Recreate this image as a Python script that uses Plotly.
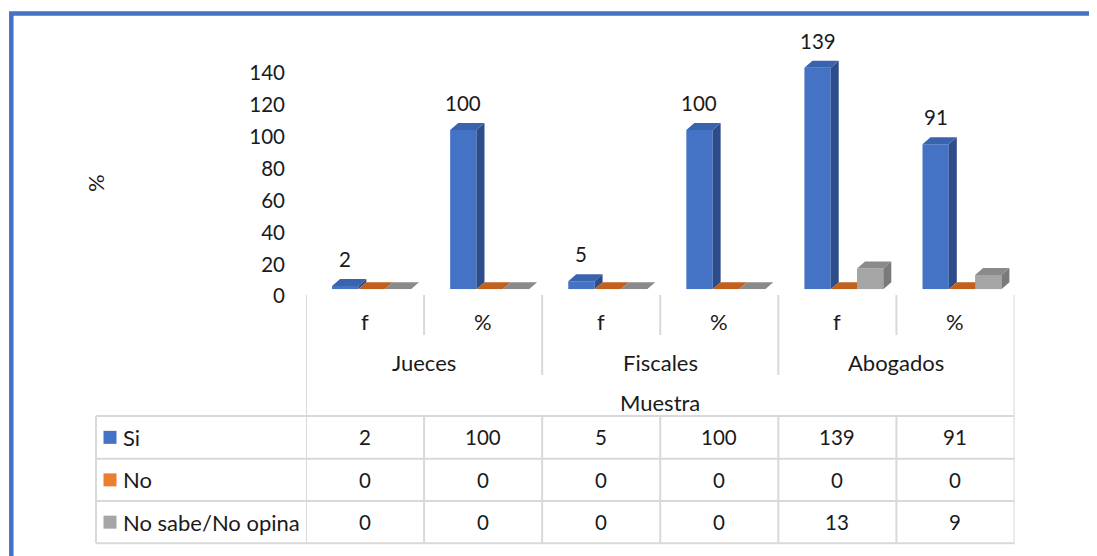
import plotly.graph_objects as go

# page body keeps its default 8px margin, so the figure is drawn 8px in and
# all reference pixel positions are converted with that offset
PAGE_W, PAGE_H = 1097, 556
OFF = 8
W, H = PAGE_W - OFF, PAGE_H - OFF

# ---------------- data ----------------
sub_categories = ["f", "%", "f", "%", "f", "%"]
groups = ["Jueces", "Fiscales", "Abogados"]
outer_title = "Muestra"
series_names = ["Si", "No", "No sabe/No opina"]
si_values = [2, 100, 5, 100, 139, 91]
no_values = [0, 0, 0, 0, 0, 0]
ns_values = [0, 0, 0, 0, 13, 9]
y_ticks = [0, 20, 40, 60, 80, 100, 120, 140]
y_title = "%"

series_values = [si_values, no_values, ns_values]
front_colors = ["#4472C4", "#ED7D31", "#A5A5A5"]
side_colors = ["#2C4D8A", "#A9561F", "#7A7A7A"]
top_colors = ["#3A63AD", "#C2601E", "#8A8A8A"]

FONT = "Lato"
TXT = "#1a1a1a"
GRID = "#d9d9d9"
WORD_SIZE = 22
NUM_SIZE = 20.5

# ---------------- geometry (reference pixels -> axes) ----------------
x_left_px, x_right_px = 306.0, 1014.5
n_cat = len(sub_categories)
cat_px = (x_right_px - x_left_px) / n_cat
base_px = 289.3
top_px = 30.0
px_per_unit = 1.593
y_max = (base_px - top_px) / px_per_unit

bar_w = 26.3 / cat_px          # width of each bar in category units
group_shift = 6.5 / cat_px     # front faces slightly right of category centre
dx = 8.0 / cat_px              # 3D depth (horizontal)
dy = 7.0 / px_per_unit         # 3D depth (vertical)


def px_x(p):
    return (p - OFF) / W


def px_y(p):
    return 1 - (p - OFF) / H


def font(size):
    return dict(family=FONT, size=size, color=TXT)


fig = go.Figure()

# 3D-looking columns built as filled polygons on the data axes
for s, (name, vals) in enumerate(zip(series_names, series_values)):
    fx, fy, sx, sy, tx, ty = [], [], [], [], [], []
    for i, v in enumerate(vals):
        L = i + group_shift + (s - 1.5) * bar_w
        R = L + bar_w
        fx += [L, R, R, L, L, None]
        fy += [0, 0, v, v, 0, None]
        sx += [R, R + dx, R + dx, R, R, None]
        sy += [0, dy, v + dy, v, 0, None]
        tx += [L, L + dx, R + dx, R, L, None]
        ty += [v, v + dy, v + dy, v, v, None]
    for xs, ys, col in ((fx, fy, front_colors[s]), (sx, sy, side_colors[s]), (tx, ty, top_colors[s])):
        fig.add_trace(go.Scatter(
            x=xs, y=ys, mode="lines", fill="toself", fillcolor=col,
            line=dict(width=0, color=col), hoverinfo="skip", showlegend=False,
            name=name, connectgaps=False,
        ))

annotations = []


def ann(**kw):
    base = dict(showarrow=False, xanchor="center", yanchor="middle")
    base.update(kw)
    annotations.append(base)


# data labels for "Si"
for i, v in enumerate(si_values):
    xc = i + group_shift + (0 - 1.5) * bar_w + bar_w / 2
    ann(x=xc, y=v, xref="x", yref="y", text=str(v), yshift=27, font=font(NUM_SIZE))

# category labels (multi-level axis)
for i, c in enumerate(sub_categories):
    ann(x=i, y=px_y(321), xref="x", yref="paper", text=c, font=font(WORD_SIZE))
for g, name in enumerate(groups):
    ann(x=2 * g + 0.5, y=px_y(362), xref="x", yref="paper", text=name, font=font(WORD_SIZE))
ann(x=(n_cat - 1) / 2, y=px_y(402), xref="x", yref="paper", text=outer_title, font=font(WORD_SIZE))

# y-axis title
ann(x=px_x(96), y=px_y(183), xref="paper", yref="paper", text=y_title, textangle=-90,
    font=font(WORD_SIZE))

# data table
row_lines = [416.0, 458.7, 501.0, 543.3]
row_centers = [(row_lines[k] + row_lines[k + 1]) / 2 for k in range(3)]
shapes = []
for r, (name, vals) in enumerate(zip(series_names, series_values)):
    yc = row_centers[r]
    for i, v in enumerate(vals):
        ann(x=i, y=px_y(yc), xref="x", yref="paper", text=str(v), font=font(NUM_SIZE))
    ann(x=px_x(121), y=px_y(yc), xref="paper", yref="paper", text=name, xanchor="left",
        font=font(WORD_SIZE))
    shapes.append(dict(type="rect", xref="paper", yref="paper",
                       x0=px_x(103.5), x1=px_x(116.5), y0=px_y(yc - 6.5), y1=px_y(yc + 6.5),
                       fillcolor=front_colors[r], line=dict(width=0)))

# grid lines of the axis / table
line_style = dict(color=GRID, width=2)
for k in range(n_cat + 1):
    xb = k - 0.5
    if k == 0 or k == n_cat:
        segs = [(295, row_lines[-1])]
    elif k % 2 == 1:
        segs = [(295, 335), (row_lines[0], row_lines[-1])]
    else:
        segs = [(295, 375), (row_lines[0], row_lines[-1])]
    for a, b in segs:
        shapes.append(dict(type="line", xref="x", yref="paper", x0=xb, x1=xb,
                           y0=px_y(a), y1=px_y(b), line=line_style))
for yl in row_lines:
    shapes.append(dict(type="line", xref="paper", yref="paper", x0=px_x(96), x1=px_x(x_right_px),
                       y0=px_y(yl), y1=px_y(yl), line=line_style))
shapes.append(dict(type="line", xref="paper", yref="paper", x0=px_x(96), x1=px_x(96),
                   y0=px_y(row_lines[0]), y1=px_y(row_lines[-1]), line=line_style))

# blue frame (left and top visible)
shapes.append(dict(type="path", xref="paper", yref="paper",
                   path=f"M {px_x(11.3)} {px_y(570)} L {px_x(11.3)} {px_y(13.5)} L {px_x(1110)} {px_y(13.5)}",
                   line=dict(color="#4472C4", width=4.5)))

fig.update_layout(
    width=W, height=H,
    margin=dict(l=0, r=0, t=0, b=0, autoexpand=False),
    paper_bgcolor="white", plot_bgcolor="white",
    showlegend=False,
    annotations=annotations,
    shapes=shapes,
    xaxis=dict(domain=[px_x(x_left_px), px_x(x_right_px)], range=[-0.5, n_cat - 0.5],
               visible=False, fixedrange=True, automargin=False),
    yaxis=dict(domain=[px_y(base_px), px_y(top_px)], range=[0, y_max],
               tickvals=y_ticks, ticktext=[str(t) for t in y_ticks],
               showgrid=False, zeroline=False, showline=False, ticks="",
               ticklabelstandoff=20, ticklabelshift=7, automargin=False,
               tickfont=font(NUM_SIZE), fixedrange=True),
)

fig.write_html("out.html", config={"displayModeBar": False})
